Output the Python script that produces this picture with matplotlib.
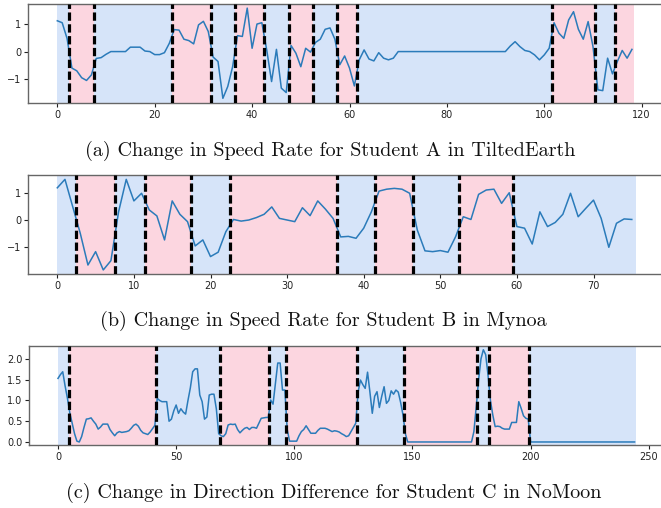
import matplotlib
matplotlib.use("Agg")
import matplotlib.pyplot as plt

# ---------------- data ----------------
speed_a = [1.12, 1.05, 0.48, -0.6, -0.7, -0.95, -1.05, -0.85, -0.25, -0.22,
           -0.1, 0.0, 0.0, 0.0, 0.0, 0.16, 0.16, 0.16, 0.02, 0.0,
           -0.11, -0.11, -0.04, 0.3, 0.8, 0.78, 0.45, 0.4, 0.28, 0.97,
           1.1, 0.73, -0.2, -0.36, -1.7, -1.27, -0.55, 0.58, 0.55, 1.58,
           0.12, 1.0, 1.05, 0.06, -1.09, 0.08, -1.33, -1.49, 0.22, -0.06,
           -0.55, 0.12, -0.02, 0.33, 0.45, 0.81, 0.86, 0.45, -0.48, -0.16,
           -0.6, -1.25, -0.3, 0.06, -0.27, -0.34, -0.04, -0.24, -0.3, -0.24,
           0.0, 0.0, 0.0, 0.0, 0.0, 0.0, 0.0, 0.0, 0.0, 0.0,
           0.0, 0.0, 0.0, 0.0, 0.0, 0.0, 0.0, 0.0, 0.0, 0.0,
           0.0, 0.0, 0.0, 0.2, 0.36, 0.18, 0.04, 0.0, -0.12, -0.3,
           -0.12, 0.12, 1.05, 0.67, 0.48, 1.15, 1.45, 0.81, 0.45, 1.09,
           0.18, -1.39, -1.42, -0.24, -0.81, -0.36, 0.04, -0.24, 0.08]
bounds_a = [0, 2.5, 7.5, 23.5, 31.5, 36.5, 42.5, 47.5, 52.5, 57.5, 61.5,
            101.5, 110.5, 114.5, 118.5]

speed_b = [1.18, 1.49, 0.5, -0.49, -1.65, -1.16, -1.83, -1.49, 0.3, 1.49,
           0.7, 0.98, 0.37, 0.15, -0.73, 0.7, 0.21, -0.06, -0.95, -0.73,
           -1.34, -1.18, -0.43, 0.02, -0.04, 0.0, 0.09, 0.21, 0.48, 0.06,
           0.0, -0.06, 0.45, 0.16, 0.7, 0.4, 0.06, -0.62, -0.6, -0.67,
           -0.3, 0.3, 1.06, 1.13, 1.16, 1.13, 0.98, -0.37, -1.13, -1.16,
           -1.12, -1.18, -0.61, 0.12, 0.02, 0.94, 1.1, 1.13, 0.61, 1.0,
           -0.24, -0.3, -0.88, 0.3, -0.24, -0.09, 0.21, 0.98, 0.12, 0.43,
           0.73, 0.06, -1.0, -0.12, 0.04, 0.02]
bounds_b = [0, 2.5, 7.5, 11.5, 17.5, 22.5, 36.5, 41.5, 46.5, 52.5, 59.5, 75.5]

direction_c = [1.53, 1.62, 1.69, 1.35, 1.05, 0.7, 0.45, 0.2, 0.02, 0.0,
               0.13, 0.35, 0.55, 0.56, 0.58, 0.5, 0.43, 0.31, 0.36, 0.43,
               0.43, 0.43, 0.3, 0.22, 0.15, 0.22, 0.25, 0.23, 0.24, 0.25,
               0.27, 0.33, 0.4, 0.43, 0.38, 0.28, 0.22, 0.2, 0.18, 0.24,
               0.32, 0.4, 1.05, 1.0, 0.97, 0.97, 0.97, 0.5, 0.55, 0.75,
               0.89, 0.69, 0.8, 0.72, 0.67, 1.0, 1.3, 1.69, 1.76, 1.76,
               1.13, 0.97, 0.55, 0.6, 1.13, 1.15, 1.15, 0.8, 0.2, 0.15,
               0.13, 0.2, 0.41, 0.43, 0.42, 0.43, 0.3, 0.22, 0.28, 0.33,
               0.35, 0.3, 0.35, 0.35, 0.33, 0.45, 0.57, 0.58, 0.59, 0.59,
               1.01, 0.91, 1.4, 1.9, 1.9, 1.25, 1.25, 0.3, 0.02, 0.02,
               0.02, 0.02, 0.15, 0.25, 0.3, 0.39, 0.3, 0.21, 0.21, 0.21,
               0.28, 0.33, 0.33, 0.33, 0.31, 0.28, 0.25, 0.27, 0.26, 0.24,
               0.2, 0.17, 0.13, 0.15, 0.25, 0.35, 0.45, 1.2, 1.49, 1.38,
               1.29, 1.68, 1.2, 0.69, 1.1, 1.21, 0.83, 1.1, 1.33, 0.93,
               1.0, 1.23, 1.15, 1.25, 1.2, 0.95, 0.65, 0.2, 0.0, 0.0,
               0.0, 0.0, 0.0, 0.0, 0.0, 0.0, 0.0, 0.0, 0.0, 0.0,
               0.0, 0.0, 0.0, 0.0, 0.0, 0.0, 0.0, 0.0, 0.0, 0.0,
               0.0, 0.0, 0.0, 0.0, 0.0, 0.0, 0.25, 0.85, 1.5, 2.0,
               2.22, 2.1, 1.6, 1.0, 0.65, 0.37, 0.38, 0.37, 0.33, 0.31,
               0.31, 0.31, 0.47, 0.47, 0.47, 0.97, 0.81, 0.63, 0.57, 0.55,
               0.0, 0.0, 0.0, 0.0, 0.0, 0.0, 0.0, 0.0, 0.0, 0.0,
               0.0, 0.0, 0.0, 0.0, 0.0, 0.0, 0.0, 0.0, 0.0, 0.0,
               0.0, 0.0, 0.0, 0.0, 0.0, 0.0, 0.0, 0.0, 0.0, 0.0,
               0.0, 0.0, 0.0, 0.0, 0.0, 0.0, 0.0, 0.0, 0.0, 0.0,
               0.0, 0.0, 0.0, 0.0, 0.0]
bounds_c = [0, 4.5, 41.5, 68.5, 89.5, 96.5, 126.5, 146.5, 177.5, 182.5,
            199.5, 244.5]

captions = ["(a) Change in Speed Rate for Student A in TiltedEarth",
            "(b) Change in Speed Rate for Student B in Mynoa",
            "(c) Change in Direction Difference for Student C in NoMoon"]

xticks_a = [0, 20, 40, 60, 80, 100, 120]
yticks_a = [-1, 0, 1]
xticks_b = [0, 10, 20, 30, 40, 50, 60, 70]
yticks_b = [-1, 0, 1]
xticks_c = [0, 50, 100, 150, 200, 250]
yticks_c = [0.0, 0.5, 1.0, 1.5, 2.0]

# ---------------- style ----------------
BLUE_BG = "#d6e4f9"
PINK_BG = "#fcd6e0"
LINE = "#2b7bba"
W, H = 661, 508
RIGHT_PX = 672.0  # axes run past the right edge of the image (cropped)

fig = plt.figure(figsize=(W / 100, H / 100), dpi=100)


def panel(left_px, top_px, bot_px, x0_px, ppu, ylim, values, bounds,
          xticks, yticks, yfmt):
    ax = fig.add_axes([left_px / W, 1 - bot_px / H,
                       (RIGHT_PX - left_px) / W, (bot_px - top_px) / H])
    for i in range(len(bounds) - 1):
        ax.axvspan(bounds[i], bounds[i + 1],
                   color=BLUE_BG if i % 2 == 0 else PINK_BG, lw=0, zorder=0)
    ax.plot(range(len(values)), values, color=LINE, lw=1.1, zorder=2)
    for b in bounds[1:-1]:
        ax.axvline(b, color="black", lw=2.3, linestyle=(0, (2.6, 1.1)),
                   zorder=3)
    ax.set_xlim((left_px - x0_px) / ppu, (RIGHT_PX - x0_px) / ppu)
    ax.set_ylim(*ylim)
    ax.set_xticks(xticks)
    ax.set_yticks(yticks)
    ax.set_yticklabels([yfmt(t) for t in yticks])
    ax.tick_params(labelsize=7, length=3, width=0.8, colors="#222222",
                   pad=2)
    for s in ax.spines.values():
        s.set_color("#666666")
        s.set_linewidth(1.0)
    ax.spines["right"].set_visible(False)
    return ax


def int_fmt(t):
    return "\u2212" + str(abs(int(t))) if t < 0 else str(int(t))


def f1_fmt(t):
    return f"{t:.1f}"


panel(28.3, 4, 103, 57.3, 4.87, (-1.87, 1.73), speed_a, bounds_a,
      xticks_a, yticks_a, int_fmt)
panel(28.3, 175, 274.3, 57.3, 7.66, (-1.99, 1.65), speed_b, bounds_b,
      xticks_b, yticks_b, int_fmt)
panel(29.3, 346, 445.3, 58.0, 2.363, (-0.08, 2.31), direction_c, bounds_c,
      xticks_c, yticks_c, f1_fmt)

cap_y = [1 - 151 / H, 1 - 321 / H, 1 - 493 / H]
cap_x = [330 / W, 323 / W, 334 / W]
for cx, cy, txt in zip(cap_x, cap_y, captions):
    fig.text(cx, cy, txt, ha="center", va="center", fontsize=14.5,
             family="cmr10", color="#111111")

fig.savefig("out.png", dpi=100)
